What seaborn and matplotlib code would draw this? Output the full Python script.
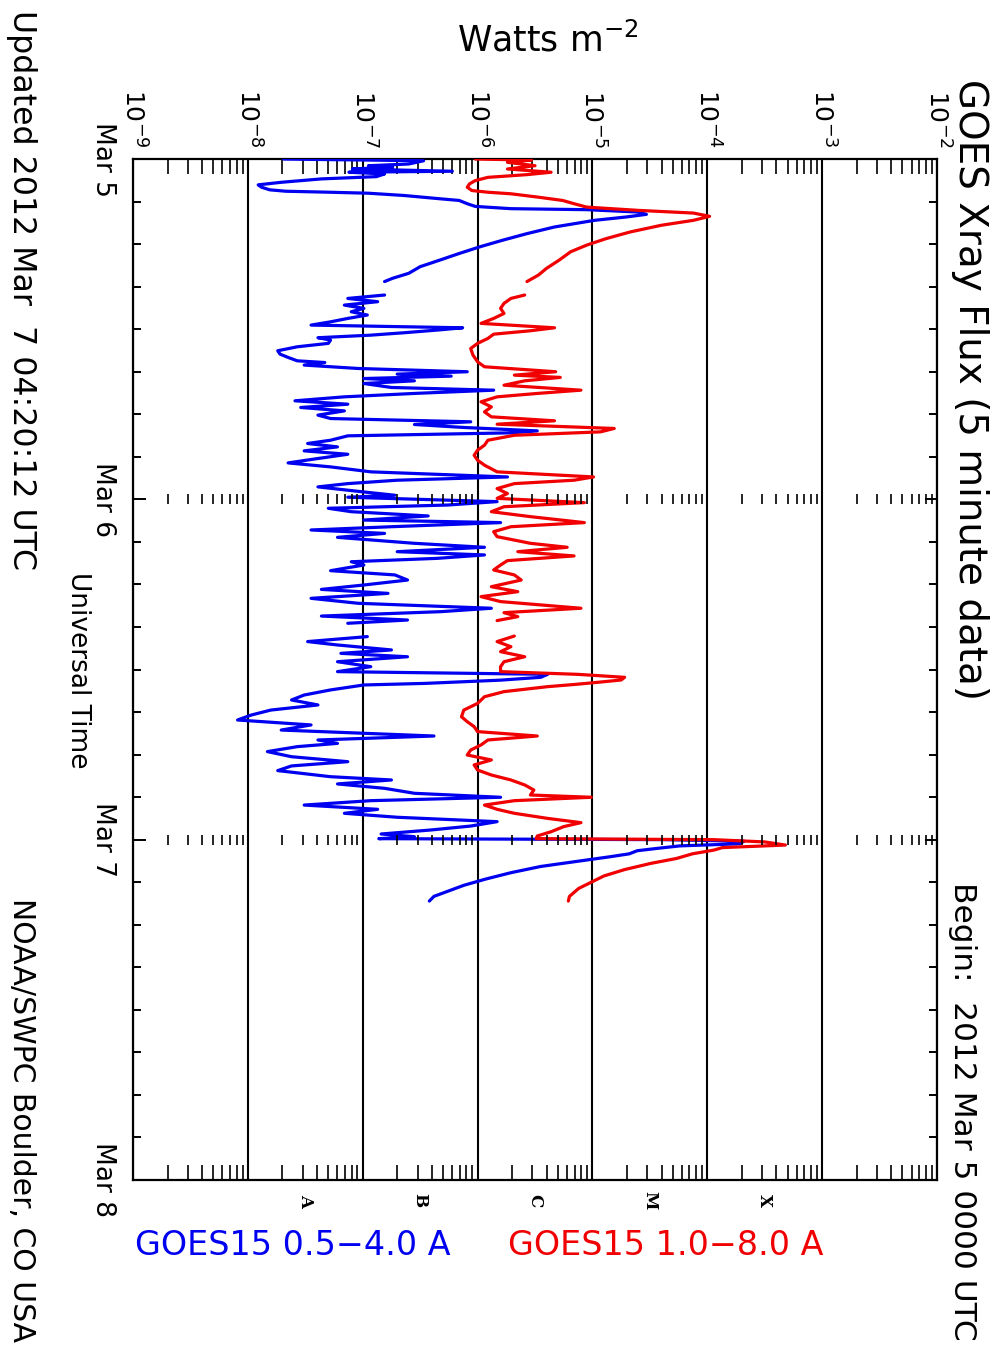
import numpy as np
import pandas as pd
import matplotlib
matplotlib.use("Agg")
import matplotlib.pyplot as plt
import matplotlib.transforms as mtransforms
from matplotlib.ticker import LogLocator, MultipleLocator, NullFormatter, LogFormatterMathtext
import seaborn as sns

# hours after 2012 Mar 5 00:00 UT and log10 of flux (W m^-2); nan marks a data gap
short_hours = [
    0.00, 0.12, 0.35, 0.47, 0.58, 0.70, 0.86, 0.93, 1.05, 1.24, 1.40, 1.64, 1.82, 1.99,
    2.17, 2.27, 2.34, 2.41, 2.57, 2.80, 2.92, 3.15, 3.34, 3.50, 3.57, 3.74, 3.90, 4.09,
    4.32, 4.79, 5.26, 5.72, 6.19, 6.66, 7.13, 7.59, 8.06, 8.41, 8.64, 8.70,
    9.59, 9.83, 10.06, 10.30, 10.53, 10.77, 11.00, 11.24, 11.48, 11.71, 11.90, 12.06,
    12.25, 12.42, 12.60, 12.77, 13.00, 13.24, 13.52, 13.76, 13.99, 14.23, 14.35, 14.53,
    14.77, 15.00, 15.17, 15.31, 15.48, 15.64, 15.83, 16.11, 16.30, 16.53, 16.77, 17.05,
    17.29, 17.52, 17.76, 18.06, 18.30, 18.53, 18.72, 18.93, 19.17, 19.31, 19.52, 19.83,
    20.06, 20.30, 20.58, 20.82, 21.12, 21.43, 21.71, 22.06, 22.42, 22.65, 22.89, 23.12,
    23.48, 23.71, 23.85, 24.16, 24.40, 24.63, 24.87, 25.17, 25.46, 25.64, 25.93, 26.16,
    26.40, 26.68, 27.10, 27.38, 27.69, 27.92, 28.16, 28.40, 28.63, 29.03, 29.33, 29.69,
    30.04, 30.35, 30.63, 30.98, 31.33, 31.68, 31.92, 32.23, 32.51, 32.74, 32.85,
    33.68, 34.03, 34.27, 34.62, 34.86, 35.10, 35.45, 35.80, 36.15, 36.34, 36.55, 36.75,
    36.98, 37.09, 37.44, 37.80, 38.15, 38.50, 38.86, 39.21, 39.56, 39.91, 40.27, 40.69,
    40.97, 41.21, 41.44, 41.79, 42.15, 42.50, 42.80, 43.13, 43.56, 43.79, 44.07, 44.38,
    44.73, 45.01, 45.25, 45.56, 45.86, 46.14, 46.42, 46.73, 47.04, 47.32, 47.60, 47.79,
    47.93, 48.00, 48.11, 48.29, 48.44, 48.60, 48.78, 49.00, 49.22, 49.56, 49.89, 50.33,
    50.78, 51.22, 51.67, 52.00, 52.33,
]
short_logflux = [
    -7.69, -6.47, -6.60, -6.95, -6.74, -7.09, -6.22, -7.12, -6.81, -6.88, -7.36, -7.71, -7.91, -7.88,
    -7.81, -7.67, -7.29, -6.95, -6.64, -6.33, -6.16, -6.09, -6.02, -5.71, -5.05, -4.60, -4.53, -4.71,
    -4.98, -5.33, -5.57, -5.78, -5.98, -6.16, -6.33, -6.50, -6.60, -6.74, -6.81, np.nan,
    -6.81, -7.13, -6.87, -7.16, -6.99, -7.10, -6.96, -7.13, -7.28, -7.45, -6.13, -6.35,
    -6.64, -6.93, -7.39, -7.28, -7.30, -7.57, -7.74, -7.72, -7.65, -7.57, -7.33, -7.51,
    -7.04, -6.09, -6.70, -6.23, -6.99, -6.55, -6.99, -6.75, -5.86, -6.55, -7.16, -7.59,
    -7.13, -7.54, -7.16, -7.39, -7.28, -6.06, -6.55, -6.12, -5.48, -5.71, -7.13, -7.28,
    -7.48, -7.22, -7.51, -7.13, -7.39, -7.65, -7.28, -6.93, -5.74, -6.70, -7.13, -7.39,
    -6.99, -6.72, -7.13, -5.83, -6.26, -7.30, -7.10, -6.43, -6.99, -5.80, -6.75, -7.45,
    -6.81, -7.22, -6.55, -5.94, -6.70, -5.94, -6.35, -7.10, -6.99, -7.28, -6.72, -6.61,
    -6.99, -7.36, -6.78, -7.45, -7.04, -5.88, -6.32, -7.36, -6.61, -7.13, np.nan,
    -6.96, -7.48, -7.22, -6.75, -7.19, -6.61, -7.22, -6.93, -7.22, -5.39, -5.45, -5.80,
    -6.46, -6.99, -7.28, -7.51, -7.62, -7.39, -7.80, -7.97, -8.09, -7.45, -7.71, -6.38,
    -7.39, -7.22, -7.57, -7.83, -7.62, -7.13, -7.62, -7.74, -7.28, -6.75, -7.22, -6.81,
    -6.55, -5.80, -6.93, -7.51, -6.87, -7.16, -6.70, -5.83, -6.06, -6.41, -6.84, -6.55,
    -6.86, -4.38, -3.68, -3.72, -4.24, -4.42, -4.61, -4.68, -4.86, -5.16, -5.45, -5.71,
    -5.93, -6.12, -6.27, -6.38, -6.42,
]

long_hours = [
    0.00, 0.07, 0.23, 0.47, 0.70, 0.93, 1.10, 1.29, 1.52, 1.75, 1.99, 2.22, 2.34, 2.45,
    2.69, 2.92, 3.15, 3.39, 3.62, 3.81, 4.04, 4.32, 4.67, 5.14, 5.61, 6.07, 6.54, 7.13,
    7.71, 8.18, 8.64, 8.70,
    9.59, 9.83, 10.18, 10.53, 10.89, 11.24, 11.59, 11.90, 12.11, 12.35, 12.65, 13.00,
    13.36, 13.83, 14.30, 14.65, 15.00, 15.24, 15.40, 15.64, 15.95, 16.30, 16.53, 16.77,
    17.12, 17.48, 17.83, 18.18, 18.46, 18.70, 19.00, 19.24, 19.48, 19.83, 20.18, 20.53,
    20.89, 21.24, 21.59, 22.06, 22.42, 22.65, 22.89, 23.24, 23.59, 23.93, 24.23, 24.52,
    24.87, 25.22, 25.64, 25.93, 26.28, 26.63, 27.10, 27.38, 27.69, 27.99, 28.32, 28.63,
    28.98, 29.33, 29.69, 30.16, 30.51, 30.86, 31.21, 31.68, 31.99, 32.27, 32.55, 32.80,
    33.64, 34.03, 34.39, 34.74, 35.10, 35.45, 35.80, 36.15, 36.34, 36.55, 36.74, 36.90,
    37.05, 37.21, 37.56, 37.92, 38.39, 38.86, 39.33, 39.68, 40.03, 40.38, 40.69, 40.97,
    41.32, 41.68, 42.03, 42.38, 42.73, 43.09, 43.44, 43.79, 44.14, 44.50, 44.85, 45.01,
    45.25, 45.56, 45.86, 46.14, 46.50, 46.80, 47.08, 47.44, 47.74, 47.93, 48.00, 48.16,
    48.38, 48.56, 48.73, 49.00, 49.33, 49.67, 50.11, 50.56, 51.00, 51.44, 52.00, 52.33,
]
long_logflux = [
    -6.02, -5.53, -5.74, -5.50, -5.74, -5.36, -5.57, -5.91, -6.02, -6.07, -6.09, -6.05, -5.91, -5.71,
    -5.47, -5.26, -5.16, -5.05, -4.60, -4.12, -3.98, -4.12, -4.40, -4.67, -4.88, -5.05, -5.19, -5.29,
    -5.40, -5.47, -5.57, np.nan,
    -5.59, -5.71, -5.77, -5.80, -5.77, -5.86, -5.97, -5.33, -5.54, -5.86, -5.91, -6.00,
    -6.06, -6.04, -6.00, -5.94, -5.32, -5.68, -5.28, -5.59, -5.77, -5.10, -5.48, -5.83,
    -5.97, -5.88, -5.94, -5.88, -5.33, -5.83, -4.81, -4.93, -5.68, -5.91, -5.94, -6.00,
    -6.03, -6.00, -5.94, -5.83, -4.99, -5.16, -5.68, -5.83, -5.74, -5.83, -5.07, -5.77,
    -5.88, -5.54, -5.07, -5.71, -5.86, -5.83, -5.54, -5.22, -5.65, -5.16, -5.74, -5.80,
    -5.86, -5.68, -5.62, -5.88, -5.65, -5.97, -5.80, -5.10, -5.77, -5.65, -5.83, np.nan,
    -5.68, -5.83, -5.71, -5.80, -5.59, -5.77, -5.80, -5.80, -5.13, -4.72, -4.75, -4.95,
    -5.15, -5.39, -5.77, -5.94, -6.00, -6.12, -6.14, -6.09, -6.03, -6.00, -5.48, -5.91,
    -5.97, -6.06, -6.09, -5.88, -6.03, -6.00, -5.88, -5.71, -5.59, -5.51, -5.54, -5.01,
    -5.68, -5.94, -5.83, -5.68, -5.39, -5.10, -5.25, -5.36, -5.48, -5.49, -3.94, -3.50,
    -3.32, -3.87, -3.94, -4.13, -4.27, -4.49, -4.72, -4.90, -5.01, -5.12, -5.20, -5.21,
]

day_labels = ["Mar 5", "Mar 6", "Mar 7", "Mar 8"]
class_labels = ["A", "B", "C", "M", "X"]
class_decades = [-8, -7, -6, -5, -4]
short_label = "GOES15 0.5\u22124.0 A"
long_label = "GOES15 1.0\u22128.0 A"
BLUE = "#0000f0"
RED = "#f00000"


def to_frame(hours, logflux):
    df = pd.DataFrame({"hour": hours, "logflux": logflux})
    df["seg"] = df["logflux"].isna().cumsum()
    df = df.dropna().copy()
    df["flux"] = 10.0 ** df["logflux"]
    return df


sns.set_style("ticks", {"axes.edgecolor": "black", "xtick.color": "black",
                        "ytick.color": "black", "text.color": "black"})
plt.rcParams["font.family"] = ["DejaVu Sans"]
plt.rcParams["text.color"] = "black"

fig = plt.figure(figsize=(9.95, 13.49), dpi=100)
ax = fig.add_axes([0.1337, 0.1253, 0.808, 0.7568])

for hours, logflux, color in [(short_hours, short_logflux, BLUE), (long_hours, long_logflux, RED)]:
    sns.lineplot(data=to_frame(hours, logflux), x="flux", y="hour", units="seg", estimator=None,
                 sort=False, orient="y", color=color, lw=2.3, ax=ax, legend=False, zorder=3)

ax.set_xscale("log")
ax.set_xlim(1e-9, 1e-2)
ax.set_ylim(72, 0)
ax.set_xlabel("")
ax.set_ylabel("")

for sp in ax.spines.values():
    sp.set_linewidth(1.6)
    sp.set_color("black")

# flux axis: labels on top, minor log ticks on both edges
ax.xaxis.set_major_locator(LogLocator(base=10, numticks=20))
ax.xaxis.set_major_formatter(LogFormatterMathtext())
ax.xaxis.set_minor_locator(LogLocator(base=10, subs=np.arange(2, 10), numticks=100))
ax.xaxis.set_minor_formatter(NullFormatter())
ax.tick_params(axis="x", which="both", top=True, bottom=True, labeltop=True, labelbottom=False,
               direction="in", labelcolor="black")
ax.tick_params(axis="x", which="major", length=0, pad=8, labelsize=18, labelrotation=-90)
ax.tick_params(axis="x", which="minor", length=10.5, width=1.2)
for lab in ax.get_xticklabels():
    lab.set_ha("center")
    lab.set_va("bottom")
ax.grid(axis="x", which="major", color="black", lw=1.5, zorder=1)
ax.grid(axis="y", visible=False)

# time axis
ax.set_yticks([0, 24, 48, 72])
ax.set_yticklabels(day_labels, rotation=-90, va="center")
ax.yaxis.set_minor_locator(MultipleLocator(3))
ax.tick_params(axis="y", which="both", left=True, right=True, direction="in", labelcolor="black")
ax.tick_params(axis="y", which="major", length=9, width=1.4, pad=12, labelsize=19)
ax.tick_params(axis="y", which="minor", length=6, width=1.4)

# dotted day boundaries made of little log ticks
mticks = [k * 10.0 ** d for d in range(-9, -2) for k in range(2, 10)]
for day in [24, 48]:
    ax.plot(mticks, [day] * len(mticks), ls="none", marker="|", ms=7, mew=1.2,
            color="black", zorder=4)

# flare classes under the plot
trans = mtransforms.blended_transform_factory(ax.transData, ax.transAxes)
for lab, d in zip(class_labels, class_decades):
    ax.text(np.sqrt(10) * 10.0 ** d, -0.02, lab, transform=trans, rotation=-90, ha="center",
            va="center", fontsize=12, fontweight="bold", family="DejaVu Serif", color="black")

fig.text(0.551, 0.970, r"Watts m$^{-2}$", ha="center", va="center", fontsize=25)
fig.text(0.975, 0.711, "GOES Xray Flux (5 minute data)", rotation=-90, ha="center", va="center",
         fontsize=28)
fig.text(0.967, 0.176, "Begin:  2012 Mar 5 0000 UTC", rotation=-90, ha="center", va="center",
         fontsize=22.5)
fig.text(0.022, 0.785, "Updated 2012 Mar  7 04:20:12 UTC", rotation=-90, ha="center",
         va="center", fontsize=22.8)
fig.text(0.022, 0.170, "NOAA/SWPC Boulder, CO USA", rotation=-90, ha="center", va="center",
         fontsize=21.5)
fig.text(0.078, 0.503, "Universal Time", rotation=-90, ha="center", va="center", fontsize=19)
fig.text(0.136, 0.077, short_label, color=BLUE, ha="left", va="center", fontsize=24)
fig.text(0.511, 0.077, long_label, color=RED, ha="left", va="center", fontsize=24)

fig.savefig("out.png", dpi=100)
